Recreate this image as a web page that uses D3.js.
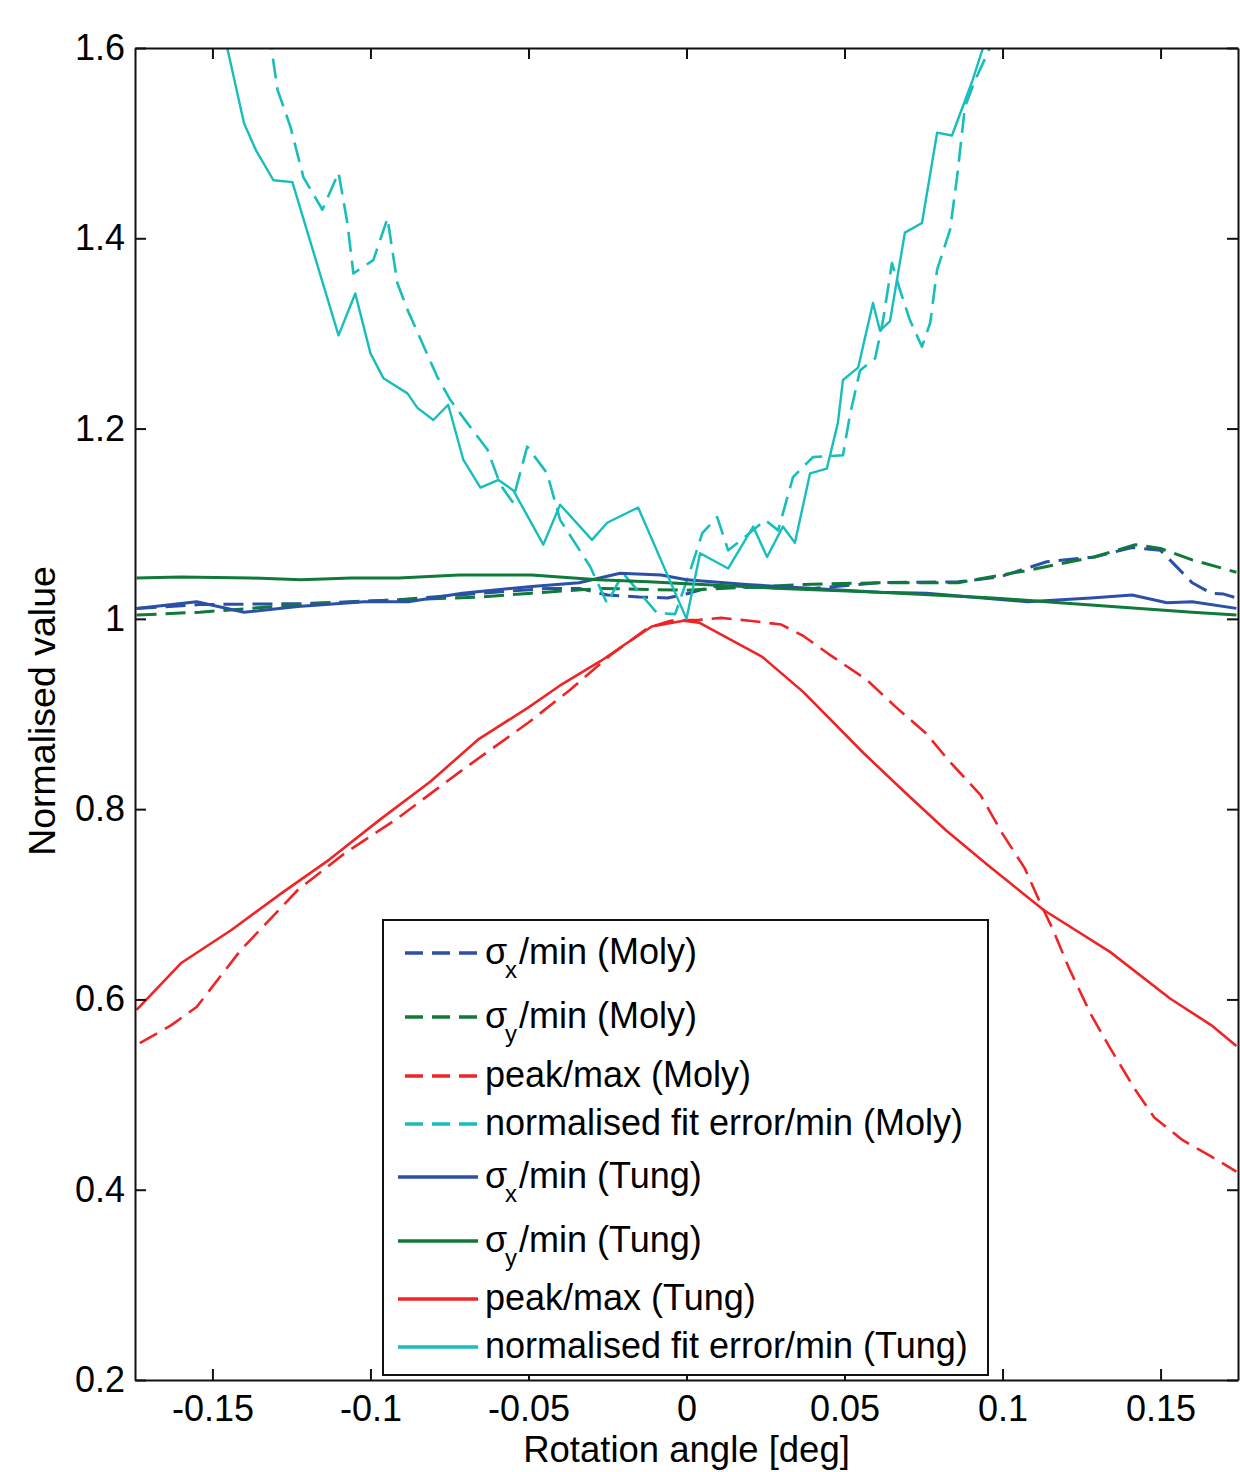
<!DOCTYPE html>
<html><head><meta charset="utf-8">
<script src="https://cdn.jsdelivr.net/npm/d3@7"></script>
<style>body{margin:0;background:#fff} text{font-family:"Liberation Sans",Arial,sans-serif;fill:#000}</style>
</head><body><svg id="chart" width="1240" height="1472"></svg>
<script>
// ---- data ----
const xTicks = [-0.15, -0.1, -0.05, 0, 0.05, 0.1, 0.15];
const xTickLabels = ["-0.15", "-0.1", "-0.05", "0", "0.05", "0.1", "0.15"];
const yTicks = [0.2, 0.4, 0.6, 0.8, 1.0, 1.2, 1.4, 1.6];
const yTickLabels = ["0.2", "0.4", "0.6", "0.8", "1", "1.2", "1.4", "1.6"];

const sigXMolyX = [-0.174,-0.154,-0.122,-0.091,-0.065,-0.044,-0.034,-0.025,-0.015,-0.006,0.001,0.008,0.040,0.061,0.086,0.099,0.114,0.129,0.141,0.150,0.160,0.166,0.170,0.174];
const sigXMolyY = [1.011,1.015,1.016,1.020,1.027,1.032,1.032,1.025,1.023,1.022,1.027,1.034,1.032,1.038,1.039,1.044,1.060,1.065,1.075,1.072,1.038,1.027,1.026,1.022];

const sigYMolyX = [-0.174,-0.154,-0.122,-0.091,-0.065,-0.049,-0.027,0.000,0.036,0.061,0.086,0.108,0.129,0.142,0.150,0.160,0.174];
const sigYMolyY = [1.004,1.007,1.015,1.020,1.023,1.027,1.032,1.030,1.036,1.038,1.038,1.051,1.065,1.078,1.074,1.062,1.049];

const peakMolyX = [-0.173,-0.163,-0.155,-0.141,-0.123,-0.108,-0.092,-0.071,-0.050,-0.037,-0.024,-0.012,-0.005,0.004,0.011,0.020,0.030,0.037,0.045,0.057,0.066,0.076,0.083,0.093,0.100,0.107,0.112,0.116,0.121,0.128,0.134,0.142,0.148,0.157,0.166,0.174];
const peakMolyY = [0.554,0.573,0.592,0.652,0.715,0.754,0.789,0.841,0.891,0.925,0.962,0.991,0.998,0.999,1.001,0.998,0.994,0.982,0.963,0.936,0.908,0.879,0.851,0.815,0.774,0.738,0.701,0.673,0.633,0.584,0.549,0.505,0.476,0.452,0.435,0.419];

const fitMolyX = [-0.1322,-0.1294,-0.1253,-0.1212,-0.1152,-0.1101,-0.1073,-0.1054,-0.0991,-0.0946,-0.0915,-0.0883,-0.0788,-0.0747,-0.0694,-0.0630,-0.0589,-0.0551,-0.0504,-0.0441,-0.0400,-0.0305,-0.0251,-0.0201,-0.0137,-0.0093,-0.0036,0.0012,0.0050,0.0097,0.0132,0.0192,0.0249,0.0290,0.0337,0.0400,0.0495,0.0517,0.0549,0.0597,0.0622,0.0650,0.0675,0.0707,0.0745,0.0771,0.0793,0.0834,0.0856,0.0881,0.0913,0.0960,0.0990];
const fitMolyY = [1.619,1.556,1.517,1.464,1.430,1.469,1.416,1.363,1.377,1.421,1.353,1.325,1.254,1.230,1.206,1.178,1.141,1.123,1.181,1.153,1.104,1.055,1.016,1.048,1.023,1.006,1.005,1.051,1.090,1.107,1.072,1.088,1.104,1.093,1.149,1.170,1.172,1.214,1.261,1.274,1.314,1.374,1.346,1.314,1.286,1.311,1.367,1.409,1.464,1.538,1.566,1.600,1.620];

const sigXTungX = [-0.174,-0.155,-0.140,-0.123,-0.102,-0.088,-0.071,-0.049,-0.034,-0.021,-0.008,0.000,0.019,0.040,0.061,0.076,0.108,0.128,0.141,0.152,0.160,0.174];
const sigXTungY = [1.011,1.018,1.007,1.013,1.018,1.018,1.027,1.034,1.038,1.048,1.046,1.041,1.036,1.032,1.028,1.027,1.018,1.022,1.025,1.017,1.018,1.011];

const sigYTungX = [-0.174,-0.160,-0.138,-0.122,-0.106,-0.091,-0.072,-0.049,-0.028,-0.012,0.000,0.030,0.061,0.097,0.118,0.139,0.160,0.174];
const sigYTungY = [1.043,1.044,1.043,1.041,1.043,1.043,1.046,1.046,1.041,1.039,1.037,1.032,1.028,1.022,1.017,1.012,1.007,1.004];

const peakTungX = [-0.174,-0.160,-0.144,-0.128,-0.113,-0.097,-0.081,-0.066,-0.050,-0.040,-0.027,-0.020,-0.011,-0.001,0.004,0.024,0.037,0.056,0.069,0.082,0.095,0.113,0.134,0.153,0.166,0.174];
const peakTungY = [0.589,0.638,0.673,0.712,0.747,0.789,0.829,0.873,0.907,0.930,0.956,0.972,0.992,0.998,0.996,0.960,0.923,0.859,0.818,0.778,0.742,0.694,0.650,0.601,0.573,0.551];

const fitTungX = [-0.148,-0.140,-0.1363,-0.1307,-0.1247,-0.1101,-0.1048,-0.1000,-0.0959,-0.0883,-0.0852,-0.0801,-0.0754,-0.0706,-0.0652,-0.0595,-0.0548,-0.0453,-0.0400,-0.0299,-0.0251,-0.0153,0.0000,0.0043,0.0132,0.0211,0.0255,0.0305,0.0343,0.0391,0.0444,0.0479,0.0495,0.0543,0.0590,0.0612,0.0644,0.0691,0.0745,0.0793,0.0840,0.0903,0.0938,0.0960];
const fitTungY = [1.640,1.521,1.493,1.461,1.459,1.298,1.342,1.279,1.253,1.237,1.222,1.209,1.225,1.167,1.138,1.146,1.135,1.078,1.120,1.083,1.101,1.117,1.000,1.069,1.053,1.097,1.065,1.097,1.080,1.153,1.158,1.206,1.251,1.264,1.332,1.303,1.313,1.406,1.416,1.511,1.508,1.564,1.600,1.620];

const seriesNames = ["σx/min (Moly)","σy/min (Moly)","peak/max (Moly)","normalised fit error/min (Moly)",
                     "σx/min (Tung)","σy/min (Tung)","peak/max (Tung)","normalised fit error/min (Tung)"];
const legendParts = [["σ","x","/min (Moly)"],["σ","y","/min (Moly)"],["","","peak/max (Moly)"],["","","normalised fit error/min (Moly)"],
                     ["σ","x","/min (Tung)"],["σ","y","/min (Tung)"],["","","peak/max (Tung)"],["","","normalised fit error/min (Tung)"]];
const seriesX = [sigXMolyX, sigYMolyX, peakMolyX, fitMolyX, sigXTungX, sigYTungX, peakTungX, fitTungX];
const seriesY = [sigXMolyY, sigYMolyY, peakMolyY, fitMolyY, sigXTungY, sigYTungY, peakTungY, fitTungY];

// ---- styles ----
const colors = ["#2b50a8","#0f7a3a","#ee2426","#18bdbd","#2b50a8","#0f7a3a","#ee2426","#18bdbd"];
const dashed = [true,true,true,true,false,false,false,false];
const widths = [3,3,2.6,2.6,3,3,2.6,2.4];

const svg = d3.select("#chart");
const L = 135, R = 1238, T = 48, B = 1380;
const x = d3.scaleLinear().domain([-0.1745, 0.1745]).range([L, R]);
const y = d3.scaleLinear().domain([0.2, 1.6]).range([B, T]);

svg.append("rect").attr("width",1240).attr("height",1472).attr("fill","#fff");
svg.append("clipPath").attr("id","clip").append("rect")
  .attr("x",L).attr("y",T).attr("width",R-L).attr("height",B-T);

const line = d3.line().x(d => x(d[0])).y(d => y(d[1]));
const g = svg.append("g").attr("clip-path","url(#clip)");
seriesX.forEach((xs,i) => {
  const pts = xs.map((v,j) => [v, seriesY[i][j]]);
  g.append("path").datum(pts).attr("d", line).attr("fill","none")
    .attr("stroke", colors[i]).attr("stroke-width", widths[i])
    .attr("stroke-linejoin","round")
    .attr("stroke-dasharray", dashed[i] ? "20,9" : null);
});

// axes (box with inward ticks on all sides)
const tl = 11;
const axB = d3.axisBottom(x).tickValues(xTicks).tickSizeInner(-tl).tickSizeOuter(0).tickFormat((d,i)=>xTickLabels[i]).tickPadding(15);
const axT = d3.axisTop(x).tickValues(xTicks).tickSizeInner(-tl).tickSizeOuter(0).tickFormat("");
const axL = d3.axisLeft(y).tickValues(yTicks).tickSizeInner(-tl).tickSizeOuter(0).tickFormat((d,i)=>yTickLabels[i]).tickPadding(10);
const axR = d3.axisRight(y).tickValues(yTicks).tickSizeInner(-tl).tickSizeOuter(0).tickFormat("");
function style(sel){
  sel.selectAll(".domain").attr("stroke","#111").attr("stroke-width",2);
  sel.selectAll(".tick line").attr("stroke","#111").attr("stroke-width",2);
  sel.selectAll("text").attr("font-size",36).attr("font-family",'"Liberation Sans",Arial,sans-serif').attr("fill","#000");
}
svg.append("g").attr("transform",`translate(0,${B})`).call(axB).call(style);
svg.append("g").attr("transform",`translate(0,${T})`).call(axT).call(style);
svg.append("g").attr("transform",`translate(${L},0)`).call(axL).call(style);
svg.append("g").attr("transform",`translate(${R},0)`).call(axR).call(style);

// axis titles
svg.append("text").attr("x",(L+R)/2).attr("y",1462).attr("text-anchor","middle").attr("font-size",36.5).text("Rotation angle [deg]");
svg.append("text").attr("transform","translate(55,711) rotate(-90)").attr("text-anchor","middle").attr("font-size",37.5).text("Normalised value");

// legend
const lg = svg.append("g");
lg.append("rect").attr("x",383).attr("y",920).attr("width",605).attr("height",455)
  .attr("fill","#fff").attr("stroke","#111").attr("stroke-width",2);
const rowY = [953,1017,1076,1124,1177,1241,1299,1347];
seriesNames.forEach((name,i) => {
  const yy = rowY[i];
  lg.append("line").attr("x1", dashed[i] ? 405 : 398).attr("x2",478).attr("y1",yy).attr("y2",yy)
    .attr("stroke",colors[i]).attr("stroke-width",3.5).attr("stroke-dasharray", dashed[i] ? "18,9" : null);
  const p = legendParts[i];
  if (p[0]) {
    lg.append("text").attr("x",485).attr("y",yy+11).attr("font-size",36).text(p[0]);
    lg.append("text").attr("x",505).attr("y",yy+25).attr("font-size",24).text(p[1]);
    lg.append("text").attr("x",519).attr("y",yy+11).attr("font-size",36).text(p[2]);
  } else {
    lg.append("text").attr("x",485).attr("y",yy+11).attr("font-size",36).text(p[2]);
  }
});
</script></body></html>
